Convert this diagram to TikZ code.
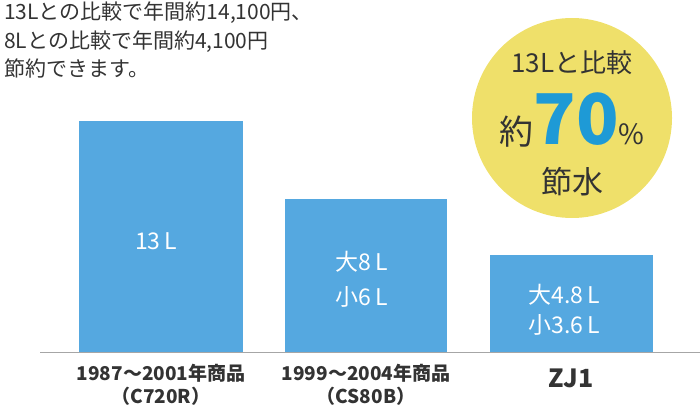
\documentclass[tikz,border=0pt]{standalone}
\usepackage{fontspec}
\setmainfont{Noto Sans CJK JP}
\definecolor{barc}{HTML}{55A8E0}
\definecolor{circ}{HTML}{EFE06A}
\definecolor{blu}{HTML}{1E9AD6}
\definecolor{txt}{HTML}{333333}
\begin{document}
\begin{tikzpicture}[x=1pt,y=-1pt,
 bar/.style={fill=barc,draw=none},
 wt/.style={text=white,font=\fontsize{23}{26}\selectfont},
 lab/.style={text=txt,font=\bfseries\fontsize{19}{23}\selectfont,align=center}]
\useasboundingbox (0,0) rectangle (700,409);
\node[anchor=north west,align=left,text=txt,font=\fontsize{21}{28.5}\selectfont,inner sep=0] (t) at (4,2) {13Lとの比較で年間約14,100円、\\8Lとの比較で年間約4,100円\\節約できます。};
\fill[bar] (79,121) rectangle (243,352);
\fill[bar] (285,199) rectangle (447,352);
\fill[bar] (490,255) rectangle (653,352);
\draw[gray!70,line width=1pt] (40,352) -- (700,352);
\node[wt] (a) at (156,241) {13\,L};
\node[wt] (b1) at (362,262) {大8\,L};
\node[wt] (b2) at (362,297) {小6\,L};
\node[wt] (c1) at (564,295) {大4.8\,L};
\node[wt] (c2) at (564,325) {小3.6\,L};
\node[lab] (l1) at (161,385) {1987～2001年商品\\（C720R）};
\node[lab] (l2) at (366,385) {1999～2004年商品\\（CS80B）};
\node[lab,font=\bfseries\fontsize{25}{28}\selectfont] (l3) at (571,378) {ZJ1};
\fill[circ] (572,118) circle (100);
\node[text=txt,font=\fontsize{26}{28}\selectfont] (k1) at (572,63) {13Lと比較};
\node[text=txt,inner sep=0] (k2) at (572,120) {\fontsize{34}{34}\selectfont 約\textcolor{blu}{\bfseries\fontsize{70}{70}\selectfont 70}\fontsize{28}{28}\selectfont\textcolor{txt}{\%}};
\node[text=txt,font=\fontsize{31}{32}\selectfont] (k3) at (572,182) {節水};
\end{tikzpicture}
\end{document}
